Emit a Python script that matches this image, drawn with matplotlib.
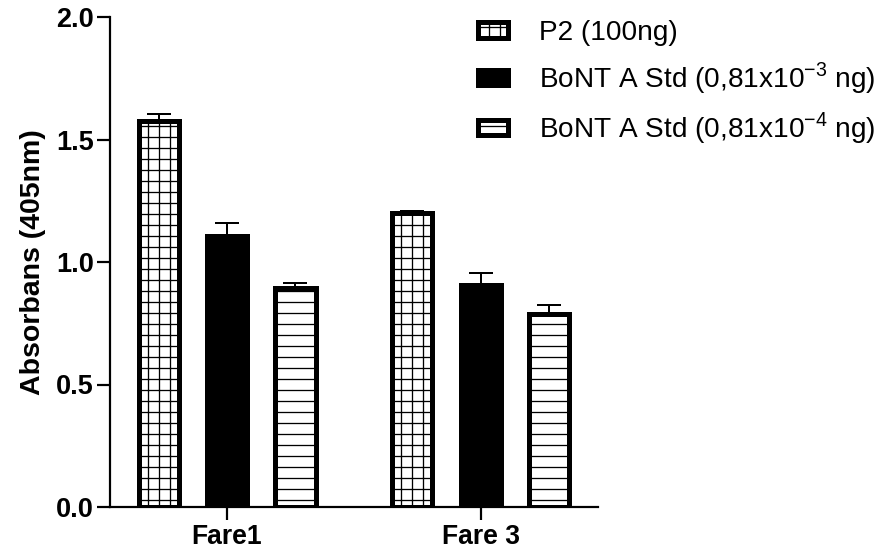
import numpy as np
import matplotlib.pyplot as plt

# absorbance readings
groups = ['Fare1', 'Fare 3']
series = ['P2 (100ng)',
          r'BoNT A Std (0,81x10$^{\mathregular{-3}}$ ng)',
          r'BoNT A Std (0,81x10$^{\mathregular{-4}}$ ng)']
p2 = [1.575, 1.200]
std3 = [1.108, 0.908]
std4 = [0.892, 0.786]
p2_err = [0.030, 0.008]
std3_err = [0.053, 0.048]
std4_err = [0.024, 0.037]

DPI = 66
pt = 72.0 / DPI  # points per pixel

plt.rcParams['font.family'] = ['Liberation Sans', 'DejaVu Sans']
plt.rcParams['mathtext.fontset'] = 'custom'
plt.rcParams['mathtext.rm'] = 'Liberation Sans'
plt.rcParams['hatch.linewidth'] = 1.3 * pt

fig = plt.figure(figsize=(890 / DPI, 560 / DPI), dpi=DPI)
ax = fig.add_axes([110 / 890, 1 - 507 / 560, (598 - 110) / 890, (507 - 17) / 560])

x = np.arange(len(groups))
off = 0.27
w = 0.158
styles = [dict(facecolor='white', hatch='+'),
          dict(facecolor='black', hatch=None),
          dict(facecolor='white', hatch='-')]
vals = [p2, std3, std4]
errs = [p2_err, std3_err, std4_err]

for i in range(3):
    pos = x + (i - 1) * off
    ax.errorbar(pos, vals[i], yerr=[[0, 0], errs[i]], fmt='none', ecolor='black',
                elinewidth=2 * pt, capsize=12 * pt, capthick=2 * pt, zorder=1)
    ax.bar(pos, vals[i], width=w, edgecolor='black', linewidth=5 * pt,
           label=series[i], zorder=2, **styles[i])

ax.set_xlim(-0.4615, 1.463)
ax.set_ylim(0, 2.0)
ax.set_yticks([0, 0.5, 1.0, 1.5, 2.0])
ax.set_yticklabels(['0.0', '0.5', '1.0', '1.5', '2.0'])
ax.set_xticks(x)
ax.set_xticklabels(groups)
for lab in ax.get_xticklabels() + ax.get_yticklabels():
    lab.set_fontweight('bold')
ax.tick_params(axis='y', labelsize=27 * pt, width=2.2 * pt, length=13 * pt, pad=3 * pt)
ax.tick_params(axis='x', labelsize=26.5 * pt, width=2.2 * pt, length=13 * pt, pad=4 * pt)
ax.set_ylabel('Absorbans (405nm)', fontsize=28.5 * pt, fontweight='bold', labelpad=10 * pt)
for s in ['top', 'right']:
    ax.spines[s].set_visible(False)
for s in ['left', 'bottom']:
    ax.spines[s].set_linewidth(2.2 * pt)

ax.legend(loc='upper left', bbox_to_anchor=(478 / 890, 1 - 20 / 560), bbox_transform=fig.transFigure,
          frameon=False, fontsize=28 * pt, handlelength=1.07, handleheight=0.46,
          handletextpad=1.1, labelspacing=0.5, borderaxespad=0, borderpad=0)

fig.savefig('out.png', dpi=DPI)
